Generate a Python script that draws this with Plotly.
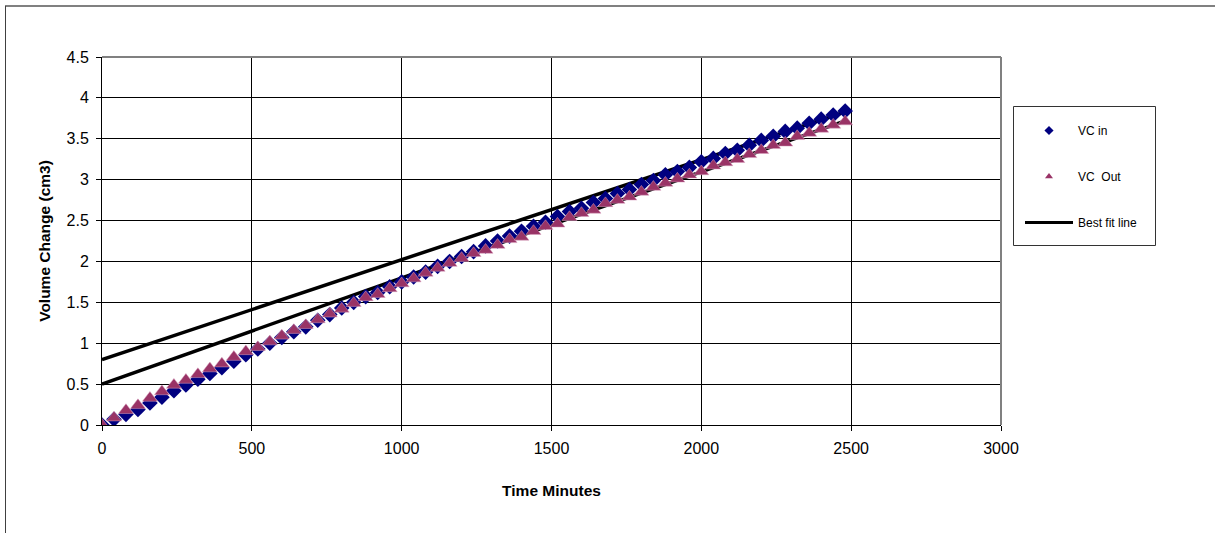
import plotly.graph_objects as go

# Elapsed time of each reading (minutes)
time_min = [0, 40, 80, 120, 160, 200, 240, 280, 320, 360, 400, 440, 480, 520, 560,
            600, 640, 680, 720, 760, 800, 840, 880, 920, 960, 1000, 1040, 1080, 1120,
            1160, 1200, 1240, 1280, 1320, 1360, 1400, 1440, 1480, 1520, 1560, 1600,
            1640, 1680, 1720, 1760, 1800, 1840, 1880, 1920, 1960, 2000, 2040, 2080,
            2120, 2160, 2200, 2240, 2280, 2320, 2360, 2400, 2440, 2480]

# Volume change measured at the inlet (cm3)
vc_in = [0.00, 0.07, 0.13, 0.19, 0.27, 0.34, 0.42, 0.49, 0.56, 0.63, 0.70, 0.78, 0.86,
         0.93, 1.00, 1.07, 1.14, 1.20, 1.28, 1.35, 1.43, 1.50, 1.57, 1.62, 1.69, 1.75,
         1.81, 1.87, 1.94, 2.00, 2.06, 2.12, 2.19, 2.25, 2.31, 2.37, 2.43, 2.48, 2.55,
         2.61, 2.65, 2.72, 2.77, 2.83, 2.88, 2.94, 2.99, 3.06, 3.10, 3.15, 3.22, 3.26,
         3.32, 3.36, 3.42, 3.48, 3.53, 3.59, 3.63, 3.69, 3.74, 3.79, 3.84]

# Volume change measured at the outlet (cm3)
vc_out = [0.00, 0.09, 0.18, 0.24, 0.33, 0.41, 0.49, 0.55, 0.62, 0.69, 0.75, 0.83, 0.90,
          0.95, 1.02, 1.09, 1.16, 1.22, 1.29, 1.36, 1.42, 1.49, 1.56, 1.60, 1.67, 1.73,
          1.79, 1.86, 1.92, 1.98, 2.04, 2.10, 2.14, 2.20, 2.27, 2.30, 2.37, 2.43, 2.46,
          2.54, 2.59, 2.63, 2.71, 2.75, 2.79, 2.85, 2.91, 2.96, 3.01, 3.06, 3.10, 3.17,
          3.21, 3.25, 3.31, 3.36, 3.42, 3.45, 3.53, 3.57, 3.62, 3.67, 3.71]

# Two best fit lines: start / end times and their values
fit_t = [0, 2480]
fit_upper = [0.80, 3.83]
fit_lower = [0.50, 3.72]

x_ticks = [0, 500, 1000, 1500, 2000, 2500, 3000]
y_ticks = [0, 0.5, 1, 1.5, 2, 2.5, 3, 3.5, 4, 4.5]

NAVY = "#000080"
PLUM = "#993366"
FONT = "Liberation Sans, Arial, sans-serif"

W, H = 1215, 533
ML, MR, MT, MB = 102, 214, 57, 108
PW, PH = W - ML - MR, H - MT - MB


def px_x(px):
    return (px - ML) / PW


def px_y(py):
    return (H - MB - py) / PH


fig = go.Figure()

# Best fit lines (both drawn as a single trace, broken by a gap)
fig.add_trace(go.Scatter(
    x=fit_t + [None] + fit_t,
    y=fit_upper + [None] + fit_lower,
    mode="lines", line=dict(color="black", width=3.5),
    connectgaps=False, showlegend=False, hoverinfo="skip"))

fig.add_trace(go.Scatter(
    x=time_min, y=vc_in, mode="markers", name="VC in",
    marker=dict(symbol="diamond", size=12, color=NAVY, line=dict(width=0)),
    showlegend=False))

fig.add_trace(go.Scatter(
    x=time_min, y=vc_out, mode="markers", name="VC  Out",
    marker=dict(symbol="triangle-up", size=13, color=PLUM,
                line=dict(width=0.5, color="#d9a0bf")),
    showlegend=False))

# Legend entries
fig.add_trace(go.Scatter(
    x=[None], y=[None], mode="markers", name="VC in", legendgroup="a",
    marker=dict(symbol="diamond", size=7, color=NAVY)))
fig.add_trace(go.Scatter(
    x=[None], y=[None], mode="markers", name="VC\u00a0 Out", legendgroup="b",
    marker=dict(symbol="triangle-up", size=7, color=PLUM)))
fig.add_trace(go.Scatter(
    x=[None], y=[None], mode="lines", name="Best fit line", legendgroup="c",
    line=dict(color="black", width=3)))

fig.update_layout(
    width=W, height=H,
    margin=dict(l=ML, r=MR, t=MT, b=MB),
    paper_bgcolor="white", plot_bgcolor="white",
    font=dict(family=FONT, color="black", size=16),
    showlegend=True,
    legend=dict(
        x=px_x(1020), y=px_y(116), xanchor="left", yanchor="top",
        borderwidth=0, bgcolor="rgba(0,0,0,0)",
        font=dict(size=12, family=FONT), tracegroupgap=27,
        itemwidth=48),
    xaxis=dict(
        range=[0, 3000], tickvals=x_ticks, ticks="outside", ticklen=5,
        tickcolor="black", showgrid=True, gridcolor="black", gridwidth=1,
        showline=True, linecolor="black", linewidth=1, zeroline=False,
        tickfont=dict(size=16), ticklabelstandoff=4,
        title=dict(text="<b>Time Minutes</b>", font=dict(size=15.5), standoff=28)),
    yaxis=dict(
        range=[0, 4.5], tickvals=y_ticks, ticks="outside", ticklen=5,
        tickcolor="black", showgrid=True, gridcolor="black", gridwidth=1,
        showline=True, linecolor="black", linewidth=1, zeroline=False,
        tickfont=dict(size=16), ticklabelstandoff=4,
        title=dict(text="<b>Volume Change (cm3)</b>", font=dict(size=15.5), standoff=12)),
    shapes=[
        # plot area frame (top and right edges in grey)
        dict(type="line", xref="paper", yref="paper", x0=0, x1=1, y0=1, y1=1,
             line=dict(color="#808080", width=2), layer="above"),
        dict(type="line", xref="paper", yref="paper", x0=1, x1=1, y0=0, y1=1,
             line=dict(color="#808080", width=2), layer="above"),
        # chart frame along the top and left edges
        dict(type="line", xref="paper", yref="paper", x0=px_x(5), x1=px_x(1215),
             y0=px_y(6), y1=px_y(6), line=dict(color="#808080", width=2)),
        dict(type="line", xref="paper", yref="paper", x0=px_x(5.5), x1=px_x(5.5),
             y0=px_y(6), y1=px_y(533), line=dict(color="#404040", width=1)),
        # legend box
        dict(type="rect", xref="paper", yref="paper",
             x0=px_x(1013.5), x1=px_x(1155.5), y0=px_y(245.5), y1=px_y(106.5),
             line=dict(color="#333333", width=1), fillcolor="white", layer="below"),
    ],
)

fig.write_html("out.html")
